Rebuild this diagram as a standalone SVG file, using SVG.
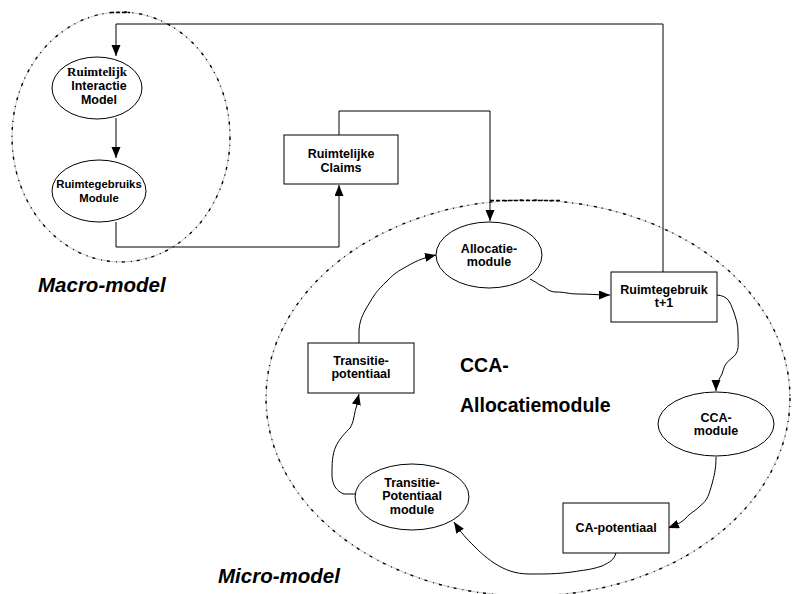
<svg xmlns="http://www.w3.org/2000/svg" width="792" height="594" viewBox="0 0 792 594">
  <defs>
    <marker id="arrow" markerUnits="userSpaceOnUse" markerWidth="12" markerHeight="10" refX="11" refY="4.5" orient="auto">
      <path d="M0,0 L11,4.5 L0,9 z" fill="#000"/>
    </marker>
    <style>
      .node { fill: #fff; stroke: #000; stroke-width: 1; }
      .lbl { font-family: "Liberation Sans", Arial, sans-serif; font-weight: bold; font-size: 12.5px; text-anchor: middle; fill: #000; }
      .small { font-size: 11.3px; }
      .serif { font-family: "Liberation Serif", "Times New Roman", serif; font-weight: bold; font-size: 13px; text-anchor: middle; fill: #000; }
      .wire { fill: none; stroke: #000; stroke-width: 1; }
      .grayline { fill: none; stroke: #b8b8b8; stroke-width: 0.8; }
      .dashes { fill: none; stroke: #000; stroke-width: 1.4; stroke-dasharray: 3 5 1 6; }
      .title { font-family: "Liberation Sans", Arial, sans-serif; font-weight: bold; fill: #000; }
    </style>
  </defs>

  <rect width="792" height="594" fill="#fff"/>

  <!-- scope outlines: light grey ring with dark dashes on top -->
  <g id="macro-scope">
    <ellipse class="grayline" cx="121" cy="137" rx="109" ry="125"/>
    <ellipse class="dashes" cx="121" cy="137" rx="109" ry="125"/>
    <line x1="110" y1="12.5" x2="130" y2="12.5" stroke="#000" stroke-width="1.6" stroke-dasharray="4 2"/>
  </g>
  <g id="micro-scope">
    <ellipse class="grayline" cx="528" cy="398" rx="262" ry="198"/>
    <ellipse class="dashes" cx="528" cy="398" rx="262" ry="198"/>
    <line x1="490" y1="200.5" x2="560" y2="200.5" stroke="#000" stroke-width="1.6" stroke-dasharray="4 2"/>
  </g>

  <!-- connectors -->
  <g id="connectors">
    <path class="wire" d="M663,272 L663,24 L116,24 L116,56" marker-end="url(#arrow)"/>
    <path class="wire" d="M116,118 L116,158" marker-end="url(#arrow)"/>
    <path class="wire" d="M116,222 L116,247 L339,247 L339,185" marker-end="url(#arrow)"/>
    <path class="wire" d="M339,135 L339,111 L490,111 L490,221" marker-end="url(#arrow)"/>
    <path class="wire" d="M530,279 C534,281 537,283 540,285 C546,287 548,292 556,292 C566,292 568,294 578,294 C590,294 598,295 610,295" marker-end="url(#arrow)"/>
    <path class="wire" d="M717,295 C728,296 730,302 733,310 C736,318 738,324 738,333 C738,345 740,352 732,358 C724,364 724,368 722,374 C719,380 716,383 716,391" marker-end="url(#arrow)"/>
    <path class="wire" d="M716,457 C716,470 714,476 712,484 C709,494 708,500 700,506 C694,512 690,513 686,518 C681,523 676,525 668,528" marker-end="url(#arrow)"/>
    <path class="wire" d="M616,553 C614,560 610,562 602,566 C590,570 584,570 572,572 C556,574 548,574 530,574 C515,574 505,570 494,563 C484,556 480,552 474,546 C466,538 462,534 454,522" marker-end="url(#arrow)"/>
    <path class="wire" d="M355,494 L344,494 C336,491 332,484 332,475 C332,464 332,455 336,446 C340,438 346,432 350,428 C354,422 354,414 356,408 C358,402 358,398 359,394" marker-end="url(#arrow)"/>
    <path class="wire" d="M359,343 L359,330 C360,318 364,312 370,302 C376,292 378,290 386,282 C392,276 396,272 404,268 C414,262 422,258 436,255" marker-end="url(#arrow)"/>
  </g>

  <!-- nodes -->
  <g id="ruimtelijk-interactie-model">
    <ellipse class="node" cx="97" cy="88" rx="45" ry="31"/>
    <text class="serif" x="97" y="76">Ruimtelijk</text>
    <text class="lbl" x="99" y="90">Interactie</text>
    <text class="lbl" x="99" y="104">Model</text>
  </g>
  <g id="ruimtegebruiks-module">
    <ellipse class="node" cx="99" cy="191" rx="47" ry="31"/>
    <text class="lbl small" x="99" y="188">Ruimtegebruiks</text>
    <text class="lbl small" x="99" y="202">Module</text>
  </g>
  <g id="ruimtelijke-claims">
    <rect class="node" x="284" y="135" width="114" height="49"/>
    <text class="lbl" x="341" y="158">Ruimtelijke</text>
    <text class="lbl" x="341" y="172">Claims</text>
  </g>
  <g id="allocatie-module">
    <ellipse class="node" cx="489" cy="255" rx="53" ry="33"/>
    <text class="lbl" x="489" y="253">Allocatie-</text>
    <text class="lbl" x="489" y="266">module</text>
  </g>
  <g id="ruimtegebruik-t1">
    <rect class="node" x="611" y="272" width="106" height="50"/>
    <text class="lbl" x="664" y="294">Ruimtegebruik</text>
    <text class="lbl" x="664" y="307">t+1</text>
  </g>
  <g id="cca-module">
    <ellipse class="node" cx="716" cy="424" rx="58" ry="32"/>
    <text class="lbl" x="716" y="422">CCA-</text>
    <text class="lbl" x="716" y="435">module</text>
  </g>
  <g id="ca-potentiaal">
    <rect class="node" x="563" y="503" width="106" height="50"/>
    <text class="lbl" x="616" y="532">CA-potentiaal</text>
  </g>
  <g id="transitie-potentiaal-module">
    <ellipse class="node" cx="412" cy="497" rx="57" ry="33"/>
    <text class="lbl" x="412" y="487">Transitie-</text>
    <text class="lbl" x="412" y="500">Potentiaal</text>
    <text class="lbl" x="412" y="514">module</text>
  </g>
  <g id="transitie-potentiaal">
    <rect class="node" x="308" y="343" width="106" height="50"/>
    <text class="lbl" x="361" y="365">Transitie-</text>
    <text class="lbl" x="361" y="378">potentiaal</text>
  </g>

  <!-- titles -->
  <text class="title" x="460" y="372" font-size="19.5">CCA-</text>
  <text class="title" x="460" y="412" font-size="19.5">Allocatiemodule</text>
  <text class="title" x="38" y="292" font-size="20.5" font-style="italic">Macro-model</text>
  <text class="title" x="218" y="583" font-size="20.5" font-style="italic">Micro-model</text>
</svg>
